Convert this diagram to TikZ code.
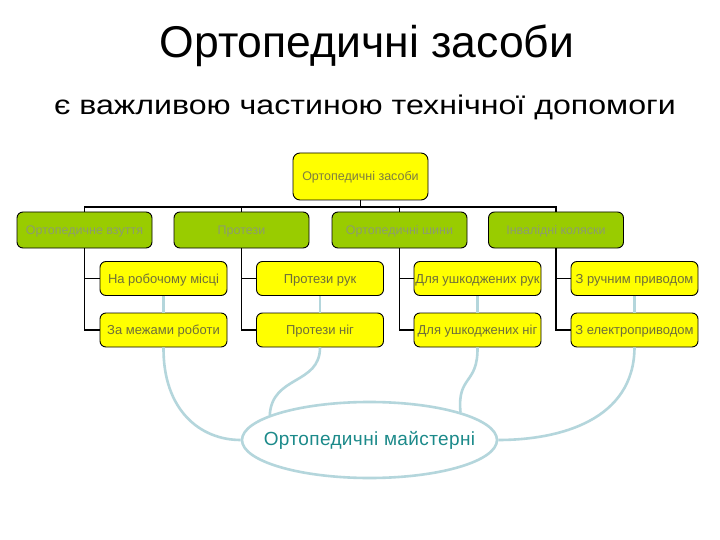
\documentclass[tikz,border=0pt]{standalone}
\usepackage{fontspec}
\setmainfont{Liberation Sans}
\usetikzlibrary{shapes.geometric}
\definecolor{boxyellow}{HTML}{FFFF00}
\definecolor{boxgreen}{HTML}{99CC00}
\definecolor{linkblue}{HTML}{B4D6DC}
\definecolor{yeltext}{HTML}{6E6E3A}
\definecolor{greentext}{HTML}{8C9C6E}
\definecolor{toptext}{HTML}{7E7E40}
\definecolor{tealtext}{HTML}{1C8A8A}
\tikzset{
  ybox/.style={draw=black, line width=0.9pt, fill=boxyellow, rounded corners=6pt,
    minimum width=127pt, minimum height=34pt, inner sep=0pt, text=yeltext,
    text height=9.3pt, text depth=0pt,
    font=\fontsize{13}{15}\selectfont},
  gbox/.style={draw=black, line width=0.9pt, fill=boxgreen, rounded corners=6pt,
    minimum width=135pt, minimum height=36pt, inner sep=0pt, text=greentext,
    text height=9pt, text depth=0pt,
    font=\fontsize{12.5}{14}\selectfont},
  tbox/.style={draw=black, line width=0.9pt, fill=boxyellow, rounded corners=7pt,
    minimum width=135pt, minimum height=47pt, inner sep=0pt, text=toptext,
    text height=9pt, text depth=0pt,
    font=\fontsize{12.5}{14}\selectfont},
  tree/.style={draw=black, line width=1.7pt},
  blink/.style={draw=linkblue, line width=2.6pt},
}
\begin{document}
\begin{tikzpicture}[x=1pt,y=-1pt]
\useasboundingbox (0,0) rectangle (720,540);
\fill[white] (0,0) rectangle (720,540);

\node (title) at (367,46) {\fontsize{44.5}{50}\selectfont Ортопедичні засоби};
\node (sub) at (365,107) {\scalebox{1.19}[1]{\fontsize{27}{32}\selectfont є важливою частиною технічної допомоги}};

\node[tbox] (top) at (360.5,176.5) {Ортопедичні засоби};

\node[gbox] (g1) at (84.5,230) {Ортопедичне взуття};
\node[gbox] (g2) at (241.5,230) {Протези};
\node[gbox] (g3) at (399.5,230) {Ортопедичні шини};
\node[gbox] (g4) at (556,230) {Інвалідні коляски};

\node[ybox] (a1) at (163.5,278.5) {На робочому місці};
\node[ybox] (b1) at (163.5,330) {За межами роботи};
\node[ybox] (a2) at (320,278.5) {Протези рук};
\node[ybox] (b2) at (320,330) {Протези ніг};
\node[ybox] (a3) at (477.5,278.5) {Для ушкоджених рук};
\node[ybox] (b3) at (477.5,330) {Для ушкоджених ніг};
\node[ybox] (a4) at (634.5,278.5) {З ручним приводом};
\node[ybox] (b4) at (634.5,330) {З електроприводом};

\coordinate (bus) at (360.5,207);
\draw[tree] (top.south) -- (bus);
\draw[tree] (g1.north) |- (bus) -| (g4.north);
\draw[tree] (g2.north) -- (g2.north |- bus);
\draw[tree] (g3.north) -- (g3.north |- bus);

\foreach \i in {1,2,3,4}{
  \draw[tree] (g\i.south) |- (a\i.west);
  \draw[tree] (g\i.south) |- (b\i.west);
  \draw[blink] (a\i.south) -- (b\i.north);
}

\node[ellipse, draw=linkblue, line width=2.6pt, fill=white, minimum width=255pt,
  minimum height=76pt, inner sep=0pt] (ell) at (369.5,440) {};
\node[text=tealtext, inner sep=0pt,
  font=\fontsize{19}{21}\selectfont\addfontfeature{LetterSpace=2}] (elltext) at (ell.center) {Ортопедичні майстерні};

\draw[blink] (b1.south) .. controls (163,410) and (200,440) .. (ell.west);
\draw[blink] (b2.south) .. controls (320,385) and (272,375) .. (ell.166);
\draw[blink] (b3.south) .. controls (478,385) and (457,375) .. (ell.17);
\draw[blink] (b4.south) .. controls (634,420) and (560,440) .. (ell.east);
\end{tikzpicture}
\end{document}
